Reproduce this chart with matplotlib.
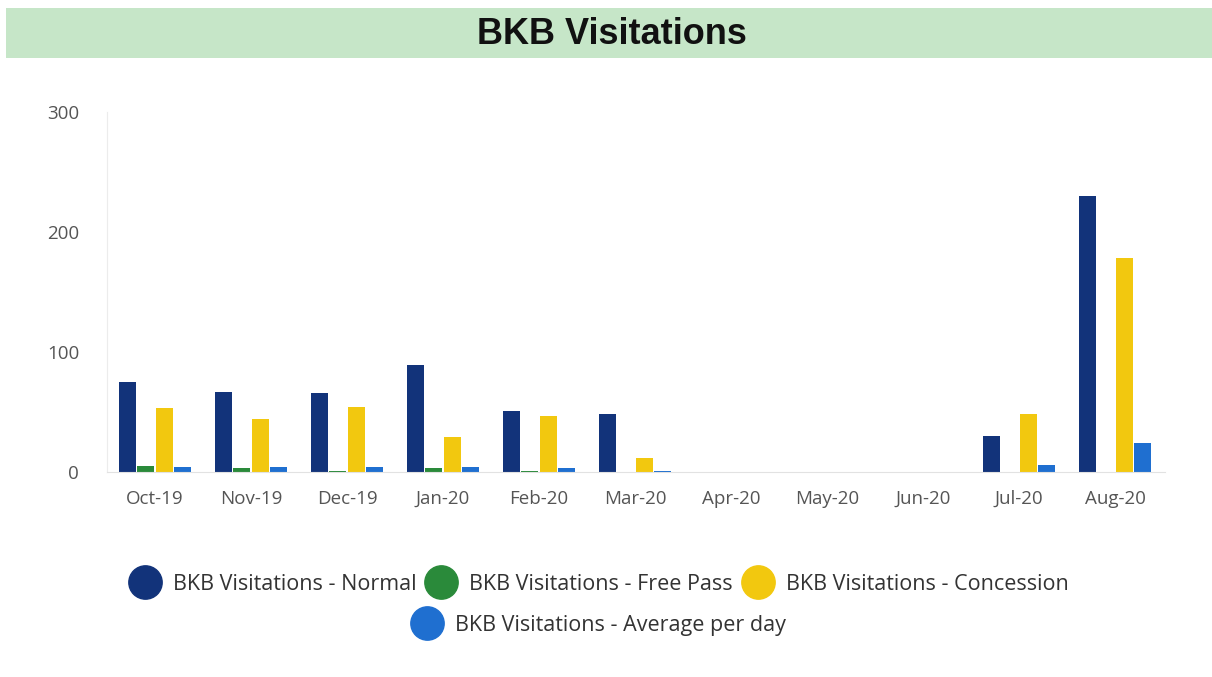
import matplotlib
matplotlib.use("Agg")
import matplotlib.pyplot as plt
from matplotlib.lines import Line2D
from matplotlib.patches import Rectangle
import numpy as np

months = ["Oct-19", "Nov-19", "Dec-19", "Jan-20", "Feb-20", "Mar-20",
          "Apr-20", "May-20", "Jun-20", "Jul-20", "Aug-20"]
normal = [75, 67, 66, 89, 51, 48, 0, 0, 0, 30, 230]
free_pass = [5, 3, 1, 3, 1, 0, 0, 0, 0, 0, 0]
concession = [53, 44, 54, 29, 47, 12, 0, 0, 0, 48, 178]
avg_per_day = [4, 4, 4, 4, 3, 1, 0, 0, 0, 6, 24]

series_names = ["BKB Visitations - Normal", "BKB Visitations - Free Pass",
                "BKB Visitations - Concession", "BKB Visitations - Average per day"]
colors = ["#12337a", "#2a8a3a", "#f2c80f", "#1f6fd0"]

fig = plt.figure(figsize=(12.12, 6.77), dpi=100)
fig.patch.set_facecolor("white")

# title band
fig.patches.append(Rectangle((0.005, 1 - 58 / 677), 0.995, 50 / 677, transform=fig.transFigure,
                             facecolor="#c6e6c8", edgecolor="none", zorder=0))
fig.text(0.505, 1 - 34 / 677, "BKB Visitations", ha="center", va="center",
         fontsize=26, fontweight="bold", family="Liberation Sans", color="#111111")

ax = fig.add_axes([107 / 1212, (677 - 472) / 677, (1165 - 107) / 1212, 360 / 677])
x = np.arange(len(months))
slot = 0.1925
for i, vals in enumerate([normal, free_pass, concession, avg_per_day]):
    ax.bar(x + (i - 1.5) * slot, vals, width=0.175, color=colors[i], zorder=2)

ax.set_xlim(-0.5, 10.52)
ax.set_ylim(0, 300)
ax.set_yticks([0, 100, 200, 300])
ax.set_xticks(x)
ax.set_xticklabels(months)
for s in ["top", "right"]:
    ax.spines[s].set_visible(False)
ax.spines["left"].set_color("#ececec")
ax.spines["bottom"].set_color("#e2e2e2")
ax.tick_params(length=0, labelsize=13.5, labelcolor="#555555")
ax.tick_params(axis="x", pad=13)
ax.tick_params(axis="y", pad=20)
for lbl in ax.get_xticklabels() + ax.get_yticklabels():
    lbl.set_family("Open Sans")

handles = [Line2D([], [], marker="o", linestyle="none", markersize=24,
                  markerfacecolor=c, markeredgecolor=c) for c in colors]
leg_font = {"family": "Open Sans", "size": 15.5}
leg1 = fig.legend(handles[:3], series_names[:3], ncol=3, loc="center",
                  bbox_to_anchor=(0.494, 1 - 584 / 677), frameon=False, prop=leg_font,
                  handletextpad=0.55, columnspacing=0.4, handlelength=1.5)
leg2 = fig.legend(handles[3:], series_names[3:], loc="center",
                  bbox_to_anchor=(0.494, 1 - 625 / 677), frameon=False, prop=leg_font,
                  handletextpad=0.55, handlelength=1.5)
for leg in (leg1, leg2):
    for t in leg.get_texts():
        t.set_color("#333333")

fig.savefig("out.png", dpi=100)
